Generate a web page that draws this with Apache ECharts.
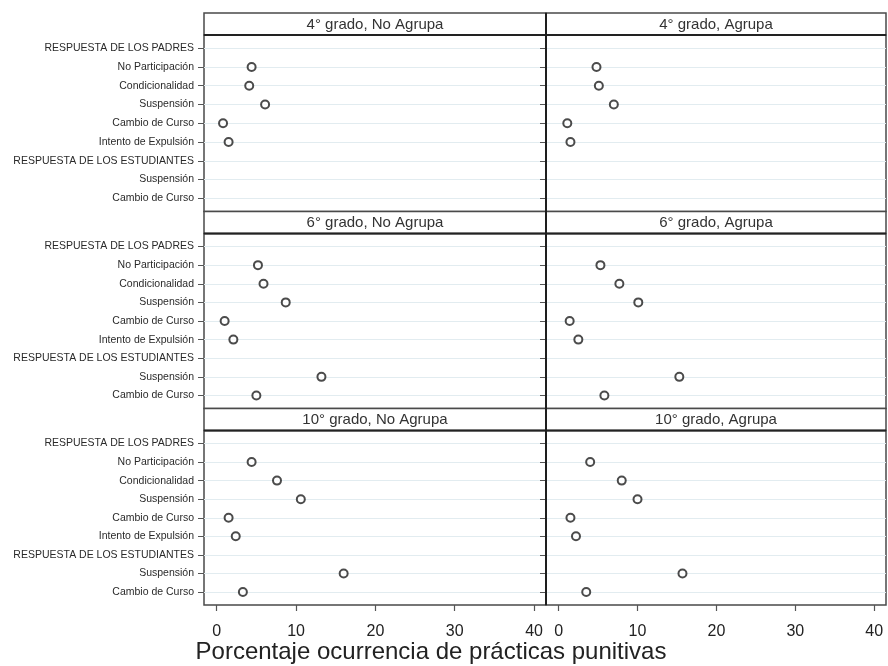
<!DOCTYPE html>
<html>
<head>
<meta charset="utf-8">
<script src="https://cdn.jsdelivr.net/npm/echarts@6/dist/echarts.min.js"></script>
<style>
  html, body { margin: 0; padding: 0; background: #fff; }
  #chart { width: 888px; height: 666px; }
</style>
</head>
<body>
<div id="chart"></div>
<script>
// Rows of each panel (top to bottom)
const categories = [
  'RESPUESTA DE LOS PADRES',
  'No Participación',
  'Condicionalidad',
  'Suspensión',
  'Cambio de Curso',
  'Intento de Expulsión',
  'RESPUESTA DE LOS ESTUDIANTES',
  'Suspensión',
  'Cambio de Curso'
];

const panelTitles = [
  '4° grado, No Agrupa', '4° grado, Agrupa',
  '6° grado, No Agrupa', '6° grado, Agrupa',
  '10° grado, No Agrupa', '10° grado, Agrupa'
];

// Percentage of occurrence per row (null = no data / header row)
const grado4NoAgrupa  = [null, 4.4, 4.1, 6.1, 0.8, 1.5, null, null, null];
const grado4Agrupa    = [null, 4.8, 5.1, 7.0, 1.1, 1.5, null, null, null];
const grado6NoAgrupa  = [null, 5.2, 5.9, 8.7, 1.0, 2.1, null, 13.2, 5.0];
const grado6Agrupa    = [null, 5.3, 7.7, 10.1, 1.4, 2.5, null, 15.3, 5.8];
const grado10NoAgrupa = [null, 4.4, 7.6, 10.6, 1.5, 2.4, null, 16.0, 3.3];
const grado10Agrupa   = [null, 4.0, 8.0, 10.0, 1.5, 2.2, null, 15.7, 3.5];

const xTicks = [0, 10, 20, 30, 40];
const xTitle = 'Porcentaje ocurrencia de prácticas punitivas';

const panelData = [grado4NoAgrupa, grado4Agrupa, grado6NoAgrupa, grado6Agrupa, grado10NoAgrupa, grado10Agrupa];

const FONT = 'Arial, "Liberation Sans", sans-serif';
const rowTops = [35, 233.5, 430.5];
const rowHeights = [176.5, 175, 174.5];
const colLefts = [204, 546];
const colWidths = [342, 340];
const stripH = 22;
const rowIdx = categories.map((_, i) => i);

const grids = [], xAxes = [], yAxes = [], series = [], graphics = [];

panelData.forEach((vals, p) => {
  const col = p % 2, row = Math.floor(p / 2);
  const left = colLefts[col], top = rowTops[row];
  const w = colWidths[col], h = rowHeights[row];
  const bottomRow = row === 2;

  grids.push({
    left: left, top: top, width: w, height: h,
    show: true, borderColor: '#4a4a4a', borderWidth: 1.5,
    backgroundColor: '#fff', containLabel: false
  });

  xAxes.push({
    gridIndex: p, type: 'value', min: -1.6, max: 41.5, position: 'bottom',
    axisLine: { show: false, onZero: false },
    axisTick: { show: bottomRow, customValues: xTicks, length: 6,
      lineStyle: { color: '#555', width: 1.2 } },
    axisLabel: { show: bottomRow, customValues: xTicks, margin: 19,
      fontSize: 16, color: '#222', fontFamily: FONT },
    splitLine: { show: false }
  });

  yAxes.push({
    gridIndex: p, type: 'value', inverse: true, min: -0.7, max: 8.7, position: 'left',
    axisLine: { show: false, onZero: false },
    axisTick: { show: true, customValues: rowIdx, length: 6,
      lineStyle: { color: '#555', width: 1 } },
    axisLabel: { show: col === 0, customValues: rowIdx, margin: 10,
      fontSize: 10.5, color: '#2a2a2a', fontFamily: FONT,
      formatter: v => categories[Math.round(v)] || '' },
    splitLine: { show: true, lineStyle: { color: '#e2ecf0', width: 1 } }
  });

  series.push({
    type: 'scatter', xAxisIndex: p, yAxisIndex: p, clip: false,
    symbol: 'circle', symbolSize: 8,
    itemStyle: { color: '#fff', borderColor: '#1e1e1e', borderWidth: 2 },
    data: vals.map((v, i) => (v === null ? null : [v, i])).filter(d => d !== null),
    z: 5
  });

  // Panel header strip
  graphics.push({
    type: 'rect', z: 10,
    shape: { x: left, y: top - stripH, width: w, height: stripH },
    style: { fill: '#fff', stroke: '#4a4a4a', lineWidth: 1.5 }
  });
  graphics.push({
    type: 'line', z: 11,
    shape: { x1: left, y1: top, x2: left + w, y2: top },
    style: { stroke: '#222', lineWidth: 2 }
  });
  graphics.push({
    type: 'text', z: 12,
    x: left + w / 2, y: top - stripH / 2 + 0.5,
    style: { text: panelTitles[p], fill: '#333', font: '15px ' + FONT,
      textAlign: 'center', textVerticalAlign: 'middle' }
  });
});

// Column divider
graphics.push({
  type: 'line', z: 11,
  shape: { x1: 546, y1: rowTops[0] - stripH, x2: 546, y2: rowTops[2] + rowHeights[2] },
  style: { stroke: '#1e1e1e', lineWidth: 2 }
});

// Shared x-axis title
graphics.push({
  type: 'text', z: 12, x: 431, y: 652,
  style: { text: xTitle, fill: '#222', font: '24px ' + FONT,
    textAlign: 'center', textVerticalAlign: 'middle' }
});

const chart = echarts.init(document.getElementById('chart'), null, { renderer: 'canvas' });
chart.setOption({
  animation: false,
  backgroundColor: '#fff',
  grid: grids,
  xAxis: xAxes,
  yAxis: yAxes,
  series: series,
  graphic: { elements: graphics }
});
</script>
</body>
</html>
